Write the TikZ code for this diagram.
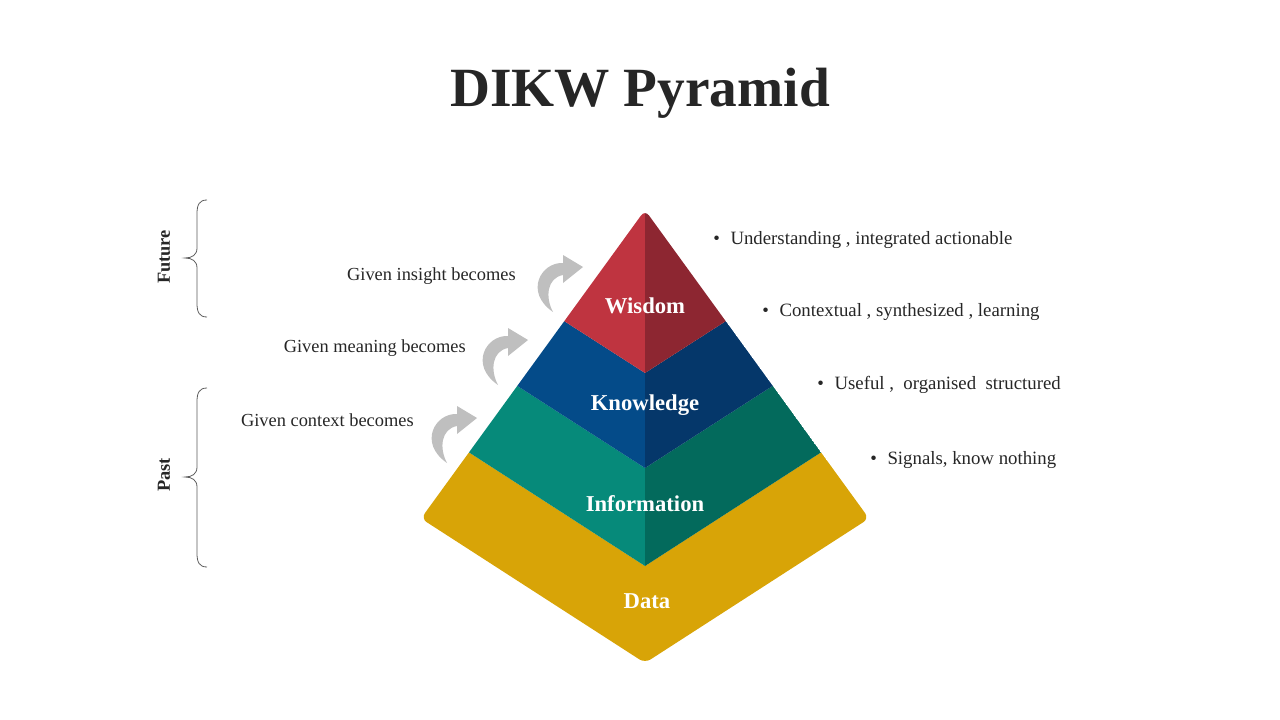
\documentclass[tikz,border=0pt]{standalone}
\usepackage{fontspec}
\setmainfont{Liberation Serif}
\definecolor{ink}{HTML}{262626}
\definecolor{wisL}{HTML}{BF3440}
\definecolor{wisR}{HTML}{8D2631}
\definecolor{knoL}{HTML}{044B89}
\definecolor{knoR}{HTML}{05376A}
\definecolor{infL}{HTML}{068A7A}
\definecolor{infR}{HTML}{036A5C}
\definecolor{dat}{HTML}{D8A407}
\definecolor{riser}{HTML}{BFBFBF}
\tikzset{
	level/.style={text=white,inner sep=0,font=\bfseries\fontsize{17}{20}\selectfont},
	note/.style={text=ink,inner sep=0,font=\fontsize{13.8}{16}\selectfont},
	bullet/.style={note,font=\fontsize{14.1}{16}\selectfont},
	era/.style={text=ink,inner sep=0,rotate=90,font=\bfseries\fontsize{13.8}{16}\selectfont},
	bracket/.style={draw=ink!75,line width=0.6pt},
	grow/.pic={\fill[riser] (0,0) -- (-20,-12) -- (-20,-4) .. controls (-42,-5) and (-59,25) .. (-30,45) .. controls (-38,30) and (-36,11) .. (-20,8) -- (-20,16) -- cycle;}
}
\begin{document}
\begin{tikzpicture}[x=0.75pt,y=-0.75pt,>=latex]
		\useasboundingbox (0,0) rectangle (1280,720);
		\node[text=ink,font=\bfseries\fontsize{41.5}{46}\selectfont] (title) at (640,93) {DIKW Pyramid};
		\begin{scope}
			\clip[rounded corners=5] (645,210) -- (421,518.5) -- (645,663) -- (869,518.5) -- cycle;
			\fill[dat] (469,452.4) -- (400,540) -- (645,680) -- (890,540) -- (821,452.4) -- (645,566) -- cycle;
			\fill[infL] (517,385.7) -- (469,452.4) -- (645,566) -- (645,468) -- cycle;
			\fill[infR] (773,385.7) -- (821,452.4) -- (645,566) -- (645,468) -- cycle;
			\fill[knoL] (564,321) -- (517,385.7) -- (645,468) -- (645,373) -- cycle;
			\fill[knoR] (726,321) -- (773,385.7) -- (645,468) -- (645,373) -- cycle;
			\fill[wisL] (645,190) -- (564,321) -- (645,373) -- cycle;
			\fill[wisR] (645,190) -- (726,321) -- (645,373) -- cycle;
		\end{scope}
		\node[level] (wisdom) at (645,306) {Wisdom};
		\node[level] (knowledge) at (645,405) {Knowledge};
		\node[level] (information) at (645,504) {Information};
		\node[level] (data) at (647,601) {Data};
		\pic at (583,267) {grow};
		\pic at (528,340) {grow};
		\pic at (477,418) {grow};
		\node[note,anchor=east] (insight) at (516,276) {Given insight becomes};
		\node[note,anchor=east] (meaning) at (466,348) {Given meaning becomes};
		\node[note,anchor=east] (context) at (414,420) {Given context becomes};
		\node[bullet,anchor=west] (wisnote) at (713,240) {\textbullet\hspace{8pt}Understanding , integrated actionable};
		\node[bullet,anchor=west] (knonote) at (762,312) {\textbullet\hspace{8pt}Contextual , synthesized , learning};
		\node[bullet,anchor=west] (infnote) at (817,385) {\textbullet\hspace{8pt}Useful ,\ \ organised\ \ structured};
		\node[bullet,anchor=west] (datnote) at (870,460) {\textbullet\hspace{8pt}Signals, know nothing};
		\draw[bracket] (207,200) .. controls (199,200) and (197,205) .. (197,214) -- (197,248) .. controls (197,255) and (192,258) .. (185,258) .. controls (192,258) and (197,261) .. (197,268) -- (197,303) .. controls (197,312) and (199,317) .. (207,317);
		\draw[bracket] (207,388) .. controls (199,388) and (197,393) .. (197,402) -- (197,467) .. controls (197,474) and (192,477) .. (185,477) .. controls (192,477) and (197,480) .. (197,487) -- (197,553) .. controls (197,562) and (199,567) .. (207,567);
		\node[era] (future) at (164,257) {Future};
		\node[era] (past) at (164,475) {Past};
		\end{tikzpicture}
\end{document}
